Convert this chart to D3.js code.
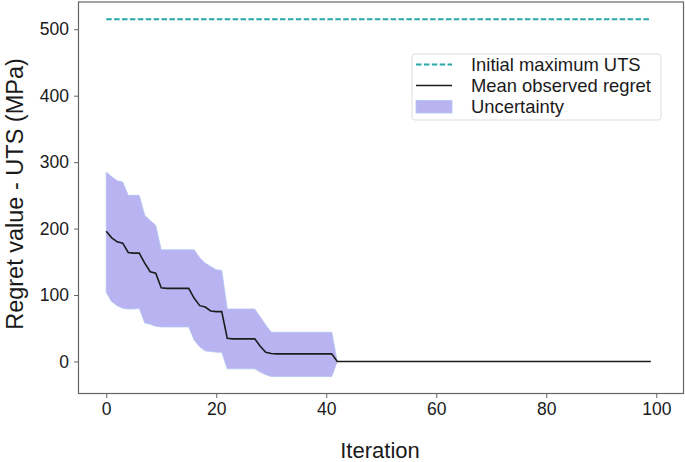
<!DOCTYPE html>
<html>
<head>
<meta charset="utf-8">
<script src="https://cdn.jsdelivr.net/npm/d3@7"></script>
<style>
  html, body { margin: 0; padding: 0; background: #fff; }
  svg { display: block; }
  text { font-family: "Liberation Sans", Arial, sans-serif; fill: #1a1a1a; }
</style>
</head>
<body>
<svg id="chart" width="685" height="462"></svg>
<script>
// ---- Data ----
const initialMaxUTS = 515;
const iterStart = 0, iterEnd = 99;
// Mean observed regret for iterations 0..42 (after that it stays at 0)
const meanHead = [196, 186, 180, 178, 164, 163, 163, 148, 135, 133,
                  111, 110, 110, 110, 110, 110, 95, 84, 82, 76,
                  75, 75, 35, 34, 34, 34, 34, 34, 23, 14,
                  12, 11.5, 11.5, 11.5, 11.5, 11.5, 11.5, 11.5, 11.5, 11.5,
                  11.5, 11.5, 0];
const upperHead = [285, 278, 272, 270, 250, 250, 250, 220, 212, 205,
                   168, 168, 168, 168, 168, 168, 168, 156, 148, 143,
                   138, 137, 79, 79, 79, 79, 79, 79, 67, 55,
                   44, 44, 44, 44, 44, 44, 44, 44, 44, 44,
                   44, 44, 0];
const lowerHead = [104, 90, 84, 80, 79, 79, 80, 58, 56, 53,
                   52, 52, 52, 52, 52, 52, 32, 22, 16, 15,
                   14, 14, -11, -11, -11, -11, -11, -11, -16, -20,
                   -22.6, -22.6, -22.6, -22.6, -22.6, -22.6, -22.6, -22.6, -22.6, -22.6,
                   -22.6, -22.6, 0];
const xTicks = [0, 20, 40, 60, 80, 100];
const yTicks = [0, 100, 200, 300, 400, 500];
const legendLabels = ["Initial maximum UTS", "Mean observed regret", "Uncertainty"];

// Build full series (values after iteration 42 stay at 0)
const iterations = d3.range(iterStart, iterEnd + 1);
const rows = iterations.map(i => ({
  x: i,
  mean: i < meanHead.length ? meanHead[i] : 0,
  upper: i < upperHead.length ? upperHead[i] : 0,
  lower: i < lowerHead.length ? lowerHead[i] : 0
}));

// ---- Layout ----
const svg = d3.select("#chart");
const plot = { left: 78.5, right: 683.5, top: 2, bottom: 393.5 };

const x = d3.scaleLinear().domain([-5.04, 104.95]).range([plot.left, plot.right]);
const y = d3.scaleLinear().domain([-48.2, 541]).range([plot.bottom, plot.top]);

const colors = { band: "#b9b4f1", bandEdge: "#aec4f0", mean: "#1c1c1c", init: "#2aa6a6", spine: "#666" };

// Band
svg.append("path")
  .datum(rows)
  .attr("d", d3.area().x(d => x(d.x)).y0(d => y(d.lower)).y1(d => y(d.upper)))
  .attr("fill", colors.band)
  .attr("stroke", colors.bandEdge)
  .attr("stroke-width", 0.8);

// Initial maximum UTS dashed line
svg.append("path")
  .datum(iterations)
  .attr("d", d3.line().x(d => x(d)).y(() => y(initialMaxUTS)))
  .attr("fill", "none")
  .attr("stroke", colors.init)
  .attr("stroke-width", 2)
  .attr("stroke-dasharray", "5.5,2.4");

// Mean line
svg.append("path")
  .datum(rows)
  .attr("d", d3.line().x(d => x(d.x)).y(d => y(d.mean)))
  .attr("fill", "none")
  .attr("stroke", colors.mean)
  .attr("stroke-width", 1.6);

// Axes
const xAxis = svg.append("g")
  .attr("transform", `translate(0,${plot.bottom})`)
  .call(d3.axisBottom(x).tickValues(xTicks).tickSize(4.5).tickPadding(5).tickFormat(d3.format("d")));
const yAxis = svg.append("g")
  .attr("transform", `translate(${plot.left},0)`)
  .call(d3.axisLeft(y).tickValues(yTicks).tickSize(4.5).tickPadding(5).tickFormat(d3.format("d")));
[xAxis, yAxis].forEach(g => {
  g.select(".domain").remove();
  g.selectAll(".tick line").attr("stroke", colors.spine).attr("stroke-width", 1);
  g.selectAll(".tick text").style("font-size", "17.5px").attr("fill", "#1a1a1a")
    .style("font-family", "'Liberation Sans', Arial, sans-serif");
});

// Frame (spines)
svg.append("rect")
  .attr("x", plot.left).attr("y", plot.top)
  .attr("width", plot.right - plot.left).attr("height", plot.bottom - plot.top)
  .attr("fill", "none").attr("stroke", colors.spine).attr("stroke-width", 1.2);

// Axis labels
svg.append("text")
  .attr("x", 380).attr("y", 458)
  .attr("text-anchor", "middle")
  .style("font-size", "22px")
  .text("Iteration");
svg.append("text")
  .attr("transform", "translate(23,194) rotate(-90)")
  .attr("text-anchor", "middle")
  .style("font-size", "23.5px")
  .text("Regret value - UTS (MPa)");

// Legend
const lg = svg.append("g");
lg.append("rect")
  .attr("x", 412).attr("y", 54).attr("width", 249).attr("height", 66)
  .attr("rx", 3).attr("fill", "#fff").attr("fill-opacity", 0.8)
  .attr("stroke", "#dcdcdc").attr("stroke-width", 1);
const rowY = [64.5, 85.5, 106.5];
lg.append("line").attr("x1", 416).attr("x2", 452).attr("y1", rowY[0]).attr("y2", rowY[0])
  .attr("stroke", colors.init).attr("stroke-width", 2).attr("stroke-dasharray", "5.5,2.4");
lg.append("line").attr("x1", 416).attr("x2", 452).attr("y1", rowY[1]).attr("y2", rowY[1])
  .attr("stroke", colors.mean).attr("stroke-width", 1.6);
lg.append("rect").attr("x", 416).attr("y", 100.5).attr("width", 36).attr("height", 12.5)
  .attr("fill", colors.band).attr("stroke", colors.bandEdge).attr("stroke-width", 0.8);
legendLabels.forEach((t, i) => {
  lg.append("text").attr("x", 471).attr("y", rowY[i] + 6.5)
    .style("font-size", "18.4px").text(t);
});
</script>
</body>
</html>
